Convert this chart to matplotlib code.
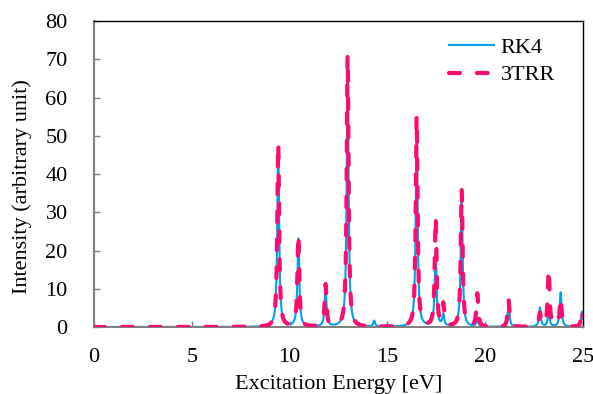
import numpy as np
import matplotlib
matplotlib.use("Agg")
import matplotlib.pyplot as plt

plt.rcParams['font.family'] = ['Liberation Serif', 'DejaVu Serif']

# Peak list: position [eV], height, half-width [eV]
rk4_pos = [9.42, 10.45, 11.84, 12.97, 14.33, 16.50, 17.47, 17.86, 18.80, 19.60, 21.20, 22.80, 23.25, 23.86, 24.95]
rk4_amp = [47.0, 23.0, 10.0, 69.0, 1.5, 54.0, 20.0, 3.0, 35.0, 2.0, 6.0, 5.0, 4.0, 9.0, 4.0]
tr_pos = [9.42, 10.45, 11.84, 12.97, 14.33, 16.50, 17.47, 17.86, 18.80, 19.60, 21.20, 22.80, 23.25, 23.86, 24.95]
tr_amp = [48.0, 24.0, 11.0, 71.0, 0.3, 55.0, 28.4, 5.7, 35.8, 8.6, 7.0, 3.5, 15.0, 7.6, 4.5]
gamma = 0.055

energy = np.linspace(0, 25, 12501)

def spectrum(pos, amp):
    y = np.zeros_like(energy)
    for p, a in zip(pos, amp):
        y += a * gamma**2 / ((energy - p)**2 + gamma**2)
    return y

rk4 = spectrum(rk4_pos, rk4_amp)
trr = spectrum(tr_pos, tr_amp)

fig = plt.figure(figsize=(5.93, 3.94), dpi=100)
ax = fig.add_axes([0.1585, 0.170, 0.8245, 0.7767])

ax.plot(energy, rk4, color='#00a0f0', lw=1.5, label='RK4', zorder=2)
ax.plot(energy, trr, color='#ff0a6e', lw=3.0, ls=(0, (2.6, 4.1)),
        dash_capstyle='round', label='3TRR', zorder=3)

ax.set_xlim(0, 25)
ax.set_ylim(0, 80)
ax.set_xticks(range(0, 26, 5))
ax.set_yticks(range(0, 81, 10))
ax.tick_params(direction='in', length=4, width=1, colors='#808080',
               labelcolor='black', labelsize=16)
ax.tick_params(axis='x', pad=15)
ax.tick_params(axis='y', pad=19)
for s in ['left', 'bottom']:
    ax.spines[s].set_color('#808080')
    ax.spines[s].set_linewidth(1.5)
for s in ['top', 'right']:
    ax.spines[s].set_color('black')
    ax.spines[s].set_linewidth(1.0)

ax.set_xlabel('Excitation Energy [eV]', fontsize=16, labelpad=6)
ax.set_ylabel('Intensity (arbitrary unit)', fontsize=16)
ax.yaxis.set_label_coords(-0.127, 0.46)

leg = ax.legend(loc='upper right', bbox_to_anchor=(0.961, 0.975),
                frameon=False, fontsize=16, borderaxespad=0,
                handlelength=2.0, handletextpad=0.3, labelspacing=0.3)

fig.savefig('out.png', dpi=100)
